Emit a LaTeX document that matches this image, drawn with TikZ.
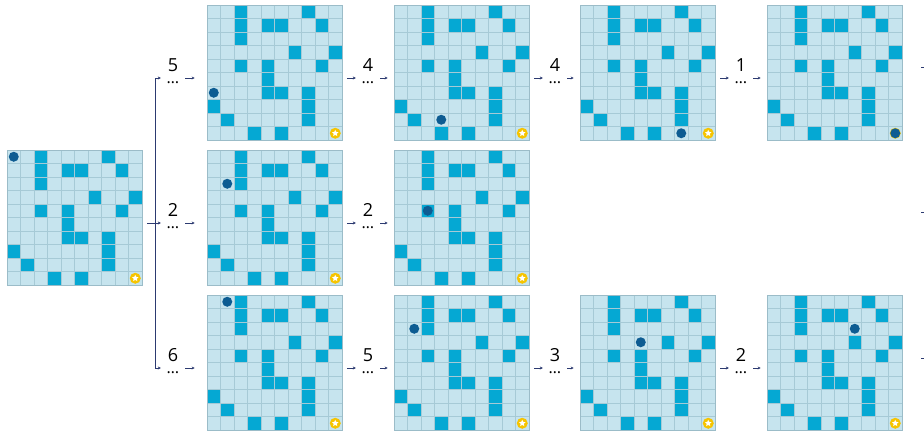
\documentclass[tikz,border=0pt]{standalone}
\usepackage{fontspec}
\setmainfont{Open Sans}
\usepackage{tikz}
\usetikzlibrary{arrows.meta,positioning,shapes.geometric,calc}
\definecolor{cellfill}{HTML}{C6E4EE}
\definecolor{wallfill}{HTML}{05A8D3}
\definecolor{gridline}{HTML}{A6CAD6}
\definecolor{boardedge}{HTML}{9BBCC8}
\definecolor{moverblue}{HTML}{0D5C92}
\definecolor{goalyellow}{HTML}{F6C400}
\definecolor{flownavy}{HTML}{2C3A70}

% one 10x10 maze board, north west corner at (#2,#3)
\newcommand{\mazeboard}[5]{%
  \begin{scope}[shift={(#2,#3)}]
    \fill[cellfill] (0,0) rectangle (135,135);
    \foreach \c/\r in {2/0,7/0,2/1,4/1,5/1,8/1,2/2,6/3,9/3,2/4,4/4,8/4,
                       4/5,4/6,5/6,7/6,0/7,7/7,1/8,7/8,3/9,5/9}
      \fill[wallfill] (\c*13.5,\r*13.5) rectangle ++(13.5,13.5);
    \foreach \k in {1,...,9} {
      \draw[gridline, line width=0.5pt] (\k*13.5,0) -- (\k*13.5,135);
      \draw[gridline, line width=0.5pt] (0,\k*13.5) -- (135,\k*13.5);
    }
    \node[board] (#1) at (67.5,67.5) {};
    \node[goal] (#1g) at (128.25,128.25) {};
    \node[starmark] at (#1g) {};
    \node[mover] (#1p) at (#4*13.5+6.75,#5*13.5+6.75) {};
  \end{scope}}

\begin{document}
\begin{tikzpicture}[
  x=1pt, y=-1pt,
  >={Stealth[length=3pt,width=3pt]},
  board/.style={
    draw=boardedge,
    line width=0.6pt,
    minimum size=135pt,
    inner sep=0pt
  },
  goal/.style={circle, fill=goalyellow, minimum size=11pt, inner sep=0pt},
  starmark/.style={star, star points=5, star point ratio=2.1, fill=white, minimum size=7pt, inner sep=0pt},
  mover/.style={circle, fill=moverblue, minimum size=10pt, inner sep=0pt},
  gap/.style={minimum width=24pt, minimum height=1pt, inner sep=0pt},
  steptext/.style={inner sep=0pt, align=center, anchor=north,
    font=\fontsize{18}{12}\selectfont},
  flow/.style={->, draw=flownavy, line width=0.7pt}
]
  \useasboundingbox (0,0) rectangle (924,431);

  % start board
  \mazeboard{b0}{7}{150}{0}{0}

  % top row
  \mazeboard{b1a}{207}{5}{0}{6}
  \mazeboard{b1b}{394}{5}{3}{8}
  \mazeboard{b1c}{580}{5}{7}{9}
  \mazeboard{b1d}{767}{5}{9}{9}

  % middle row
  \mazeboard{b2a}{207}{150}{1}{2}
  \mazeboard{b2b}{394}{150}{2}{4}

  % bottom row
  \mazeboard{b3a}{207}{295}{1}{0}
  \mazeboard{b3b}{394}{295}{1}{2}
  \mazeboard{b3c}{580}{295}{4}{3}
  \mazeboard{b3d}{767}{295}{6}{2}

  % step labels: gap node on the arrow line, count with dots over it
  \foreach \name/\cx/\cy/\val in {s1a/173/78/5, s2a/173/223/2, s3a/173/368/6,
                                  s1b/368/78/4, s1c/555/78/4, s1d/741/78/1,
                                  s2b/368/223/2,
                                  s3b/368/368/5, s3c/555/368/3, s3d/741/368/2} {
    \node[gap] (\name) at (\cx,\cy) {};
    \node[steptext] (\name t) at (\cx,\cy-20) {\val\\[0.5pt]{\fontsize{16}{12}\selectfont\ldots}};
  }

  % split from the start board
  \coordinate (fork) at ($(b0.east |- s2a)+(13,0)$);
  \draw[flow] ($(b0.east |- s2a)+(5,0)$) -- (s2a.west);
  \draw[draw=flownavy, line width=0.7pt] (fork |- s1a) -- (fork |- s3a);
  \draw[flow] (fork |- s1a) -- (s1a.west);
  \draw[flow] (fork |- s3a) -- (s3a.west);
  \draw[flow] (s1a.east) -- ($(b1a.west |- s1a)+(-12,0)$);
  \draw[flow] (s2a.east) -- ($(b2a.west |- s2a)+(-12,0)$);
  \draw[flow] (s3a.east) -- ($(b3a.west |- s3a)+(-12,0)$);

  % chains between boards
  \foreach \from/\lbl/\to in {b1a/s1b/b1b, b1b/s1c/b1c, b1c/s1d/b1d,
                              b2a/s2b/b2b,
                              b3a/s3b/b3b, b3b/s3c/b3c, b3c/s3d/b3d} {
    \draw[flow] ($(\from.east |- \lbl)+(5,0)$) -- (\lbl.west);
    \draw[flow] (\lbl.east) -- ($(\to.west |- \lbl)+(-6,0)$);
  }

  % cut-off arrow ends at the right edge
  \coordinate (r1) at (921,67);
  \coordinate (r2) at (921,212);
  \coordinate (r3) at (921,358);
  \foreach \r in {r1,r2,r3}
    \draw[draw=flownavy, line width=0.8pt] (\r) -- ++(3,0);

\end{tikzpicture}
\end{document}
